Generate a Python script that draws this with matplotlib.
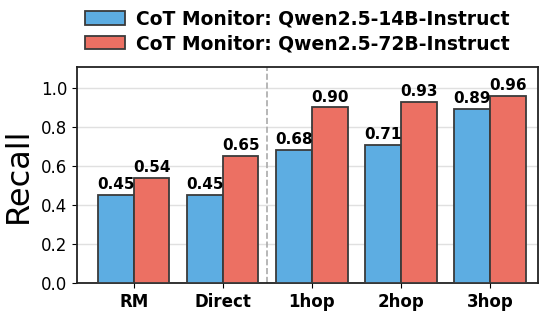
import matplotlib
matplotlib.use("Agg")
import matplotlib.pyplot as plt
import numpy as np

categories = ["RM", "Direct", "1hop", "2hop", "3hop"]
qwen14 = [0.45, 0.45, 0.68, 0.71, 0.89]
qwen72 = [0.54, 0.65, 0.90, 0.93, 0.96]
labels = ["CoT Monitor: Qwen2.5-14B-Instruct", "CoT Monitor: Qwen2.5-72B-Instruct"]
yticks = [0.0, 0.2, 0.4, 0.6, 0.8, 1.0]

fig = plt.figure(figsize=(5.49, 3.12), dpi=100)
ax = fig.add_axes([0.140, 0.093, 0.840, 0.692])

x = np.arange(len(categories))
w = 0.4
b1 = ax.bar(x - w/2, qwen14, w, color="#5DADE2", edgecolor="#3a3a3a", linewidth=1.3, label=labels[0], zorder=3)
b2 = ax.bar(x + w/2, qwen72, w, color="#EC7063", edgecolor="#3a3a3a", linewidth=1.3, label=labels[1], zorder=3)

for bars, vals in ((b1, qwen14), (b2, qwen72)):
    for r, v in zip(bars, vals):
        ax.text(r.get_x() + r.get_width()/2, v + 0.015, f"{v:.2f}", ha="center", va="bottom",
                fontsize=11, fontweight="bold", zorder=4)

ax.axvline(1.5, color="#aaaaaa", linestyle="--", linewidth=1.2, zorder=2)

ax.set_xlim(-0.64, 4.54)
ax.set_ylim(0, 1.107)
ax.set_yticks(yticks)
ax.set_yticklabels([f"{t:.1f}" for t in yticks], fontsize=12)
ax.set_xticks(x)
ax.set_xticklabels(categories, fontsize=12, fontweight="bold")
ax.set_ylabel("Recall", fontsize=23, labelpad=5)
ax.yaxis.grid(True, color="#e0e0e0", linewidth=1.0, zorder=0)
ax.set_axisbelow(True)
for s in ax.spines.values():
    s.set_linewidth(1.3)
    s.set_color("#222222")

fig.legend(handles=[b1, b2], labels=labels, loc="center", bbox_to_anchor=(0.542, 0.9),
           frameon=False, prop={"size": 13.5, "weight": "bold"}, handlelength=2.1,
           handleheight=0.75, labelspacing=0.3, handletextpad=0.6)

fig.savefig("out.png", dpi=100)
